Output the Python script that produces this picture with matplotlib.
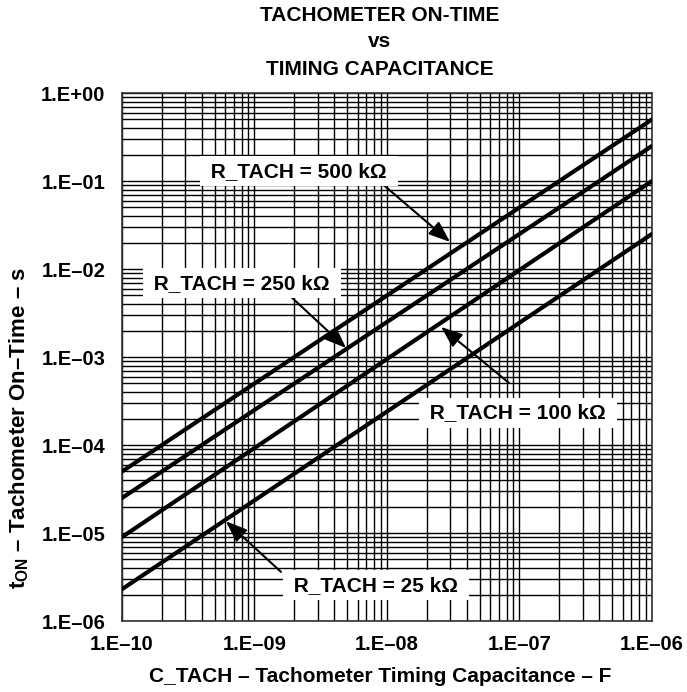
import matplotlib
matplotlib.use("Agg")
import matplotlib.pyplot as plt
from matplotlib.ticker import LogLocator, FixedLocator, NullFormatter

plt.rcParams['font.family'] = ['Liberation Sans', 'DejaVu Sans']
plt.rcParams['mathtext.fontset'] = 'custom'
plt.rcParams['mathtext.rm'] = 'Liberation Sans:bold'
plt.rcParams['mathtext.bf'] = 'Liberation Sans:bold'
plt.rcParams['mathtext.it'] = 'Liberation Sans:bold'

# Data (endpoints of straight log-log lines)
cap = [1e-10, 1e-6]
t_500k = [5.0e-5, 0.50]
t_250k = [2.5e-5, 0.25]
t_100k = [9.0e-6, 0.10]
t_25k = [2.3e-6, 0.025]
series = [t_500k, t_250k, t_100k, t_25k]

xticks = [1e-10, 1e-9, 1e-8, 1e-7, 1e-6]
xticklabels = ["1.E–10", "1.E–09", "1.E–08", "1.E–07", "1.E–06"]
yticks = [1e-6, 1e-5, 1e-4, 1e-3, 1e-2, 1e-1, 1e0]
yticklabels = ["1.E–06", "1.E–05", "1.E–04", "1.E–03", "1.E–02", "1.E–01", "1.E+00"]

labels = ["R_TACH = 500 kΩ", "R_TACH = 250 kΩ", "R_TACH = 100 kΩ", "R_TACH = 25 kΩ"]

fig = plt.figure(figsize=(6.87, 6.92), dpi=100)
ax = fig.add_axes([0.1776, 0.1026, 0.9490 - 0.1776, 0.8656 - 0.1026])
ax.set_xscale('log')
ax.set_yscale('log')
ax.set_xlim(1e-10, 1e-6)
ax.set_ylim(1e-6, 1e0)

ax.xaxis.set_major_locator(FixedLocator(xticks))
ax.yaxis.set_major_locator(FixedLocator(yticks))
ax.xaxis.set_minor_locator(LogLocator(base=10, subs=range(2, 10), numticks=50))
ax.yaxis.set_minor_locator(LogLocator(base=10, subs=range(2, 10), numticks=50))
ax.xaxis.set_minor_formatter(NullFormatter())
ax.yaxis.set_minor_formatter(NullFormatter())
ax.set_xticklabels(xticklabels, fontsize=14.5, fontweight='bold')
ax.set_yticklabels(yticklabels, fontsize=14.5, fontweight='bold')
ax.tick_params(axis='y', which='both', length=0, pad=12)
ax.tick_params(axis='x', which='both', length=0, pad=10)

ax.grid(True, which='major', color='black', linewidth=1.0)
ax.grid(True, which='minor', color='black', linewidth=1.0)
ax.set_axisbelow(True)
for s in ax.spines.values():
    s.set_linewidth(1.2)
    s.set_color('#333333')

for t in series:
    ax.plot(cap, t, color='black', linewidth=3.0, solid_capstyle='round', zorder=3)

# annotations: (text position, arrow tail, arrow tip) in axes fraction
ann = [
    ((0.334, 0.852), (0.491, 0.828), (0.619, 0.718)),
    ((0.226, 0.640), (0.321, 0.612), (0.423, 0.517)),
    ((0.747, 0.394), (0.730, 0.451), (0.602, 0.557)),
    ((0.479, 0.068), (0.300, 0.093), (0.196, 0.189)),
]
for lab, (tpos, tail, tip) in zip(labels, ann):
    ax.annotate("", xy=tip, xytext=tail, xycoords='axes fraction', textcoords='axes fraction',
                arrowprops=dict(arrowstyle='-|>,head_length=1.3,head_width=0.5', color='black',
                                lw=1.5, shrinkA=0, shrinkB=0), zorder=4)
    ax.text(tpos[0], tpos[1], " " + lab + " ", transform=ax.transAxes, ha='center', va='center',
            fontsize=15, fontweight='bold', zorder=5,
            bbox=dict(boxstyle='square,pad=0.25', facecolor='white', edgecolor='none'))

cx = 380 / 687
fig.text(cx, 0.977, "TACHOMETER ON-TIME", ha='center', va='center',
         fontsize=15, fontweight='bold')
fig.text(cx, 0.940, "vs", ha='center', va='center',
         fontsize=15, fontweight='bold')
fig.text(cx, 0.899, "TIMING CAPACITANCE", ha='center', va='center',
         fontsize=15, fontweight='bold')

fig.text(cx, 0.023, "C_TACH – Tachometer Timing Capacitance – F", ha='center', va='center',
         fontsize=15, fontweight='bold')
fig.text(0.028, 0.381, r"t$_{\mathrm{ON}}$ – Tachometer On–Time – s", ha='center',
         va='center', rotation=90, fontsize=16, fontweight='bold')

fig.savefig("out.png", dpi=100)
